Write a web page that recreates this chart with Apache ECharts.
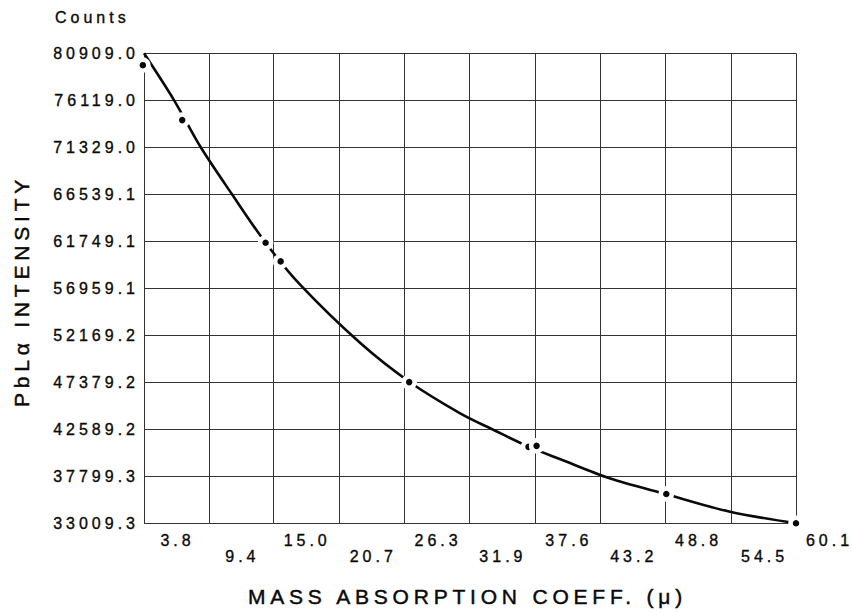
<!DOCTYPE html>
<html>
<head>
<meta charset="utf-8">
<script src="https://cdn.jsdelivr.net/npm/echarts@6/dist/echarts.min.js"></script>
<style>
html, body { margin: 0; padding: 0; background: #fff; }
#chart { width: 852px; height: 612px; }
#chart svg text { letter-spacing: 4px; stroke: #0a0a0a; stroke-width: 0.35px; }
#chart svg text[style*="21px"] { letter-spacing: 4.8px; stroke-width: 0.45px; }
</style>
</head>
<body>
<div id="chart"></div>
<script>
// Tick labels as printed on the chart
const xTickLabels = ['3.8', '9.4', '15.0', '20.7', '26.3', '31.9', '37.6', '43.2', '48.8', '54.5', '60.1'];
const yTickLabels = ['33009.3', '37799.3', '42589.2', '47379.2', '52169.2', '56959.1', '61749.1', '66539.1', '71329.0', '76119.0', '80909.0'];

// Measured standards (dots)
const pointMu     = [3.7, 7.1, 14.3, 15.6, 26.7, 37.0, 37.7, 48.9, 60.1];
const pointCounts = [79700, 74100, 61600, 59700, 47400, 40800, 40900, 36000, 33009.3];

// Fitted calibration curve
const curveMu     = [3.8, 6.4, 8.7, 11.4, 14.3, 17.3, 22.5, 26.7, 31.1, 34.0, 37.0, 39.7, 44.0, 48.9, 54.4, 60.1];
const curveCounts = [80909, 76119, 71329, 66540, 61600, 57300, 51350, 47440, 44220, 42520, 40820, 39560, 37600, 35970, 34190, 33009.3];

const xTicks = xTickLabels.map(Number);
const yTicks = yTickLabels.map(Number);
const FONT = '"Liberation Sans", Arial, Helvetica, sans-serif';
const INK = '#0a0a0a';
const GRID = '#333333';

function idxOf(arr, v) {
  for (let i = 0; i < arr.length; i++) if (Math.abs(arr[i] - v) < 1e-6) return i;
  return -1;
}

const chart = echarts.init(document.getElementById('chart'), null, { renderer: 'svg' });
chart.setOption({
  animation: false,
  backgroundColor: '#fff',
  title: {
    text: 'Counts', left: 55, top: 9, padding: 0,
    textStyle: { fontFamily: FONT, fontSize: 16, fontWeight: 'normal', color: INK }
  },
  grid: { left: 144, right: 56, top: 53.3, bottom: 88.7, containLabel: false, outerBoundsMode: 'none' },
  xAxis: {
    type: 'value',
    min: xTicks[0], max: xTicks[xTicks.length - 1],
    axisLine: { show: false },
    axisTick: { show: false, customValues: xTicks },
    splitLine: { show: true, lineStyle: { color: GRID, width: 1 } },
    axisLabel: {
      customValues: xTicks,
      align: 'left',
      margin: 9,
      fontFamily: FONT, fontSize: 16, color: INK,
      formatter: function (v) {
        const i = idxOf(xTicks, v);
        return (i % 2 === 0 ? '{hi|' : '{lo|') + xTickLabels[i] + '}';
      },
      rich: {
        hi: { width: 67, align: 'center', lineHeight: 16, fontFamily: FONT, fontSize: 16, color: INK },
        lo: { width: 67, align: 'center', lineHeight: 48, fontFamily: FONT, fontSize: 16, color: INK }
      }
    }
  },
  yAxis: {
    type: 'value',
    min: yTicks[0], max: yTicks[yTicks.length - 1],
    axisLine: { show: false },
    axisTick: { show: false, customValues: yTicks },
    splitLine: { show: true, lineStyle: { color: GRID, width: 1 } },
    axisLabel: {
      customValues: yTicks,
      margin: 5,
      fontFamily: FONT, fontSize: 16, color: INK,
      formatter: function (v) { return yTickLabels[idxOf(yTicks, v)]; }
    }
  },
  graphic: [
    {
      type: 'text', x: 21.5, y: 291, rotation: Math.PI / 2,
      style: {
        text: 'PbLα INTENSITY', fontFamily: FONT, fontSize: 21, fill: INK,
        align: 'center', verticalAlign: 'middle', textAlign: 'center', textVerticalAlign: 'middle'
      }
    },
    {
      type: 'text', x: 467.5, y: 596,
      style: {
        text: 'MASS ABSORPTION COEFF. (μ)', fontFamily: FONT, fontSize: 21, fill: INK,
        align: 'center', verticalAlign: 'middle', textAlign: 'center', textVerticalAlign: 'middle'
      }
    }
  ],
  series: [
    {
      type: 'line',
      data: curveMu.map((m, i) => [m, curveCounts[i]]),
      smooth: 0.3,
      showSymbol: false,
      lineStyle: { color: INK, width: 2.6 },
      z: 3
    },
    {
      type: 'scatter',
      data: pointMu.map((m, i) => [m, pointCounts[i]]),
      symbol: 'circle',
      symbolSize: 11,
      itemStyle: { color: INK, borderColor: '#fff', borderWidth: 4.5, opacity: 1 },
      clip: false,
      z: 4
    }
  ]
});
</script>
</body>
</html>
